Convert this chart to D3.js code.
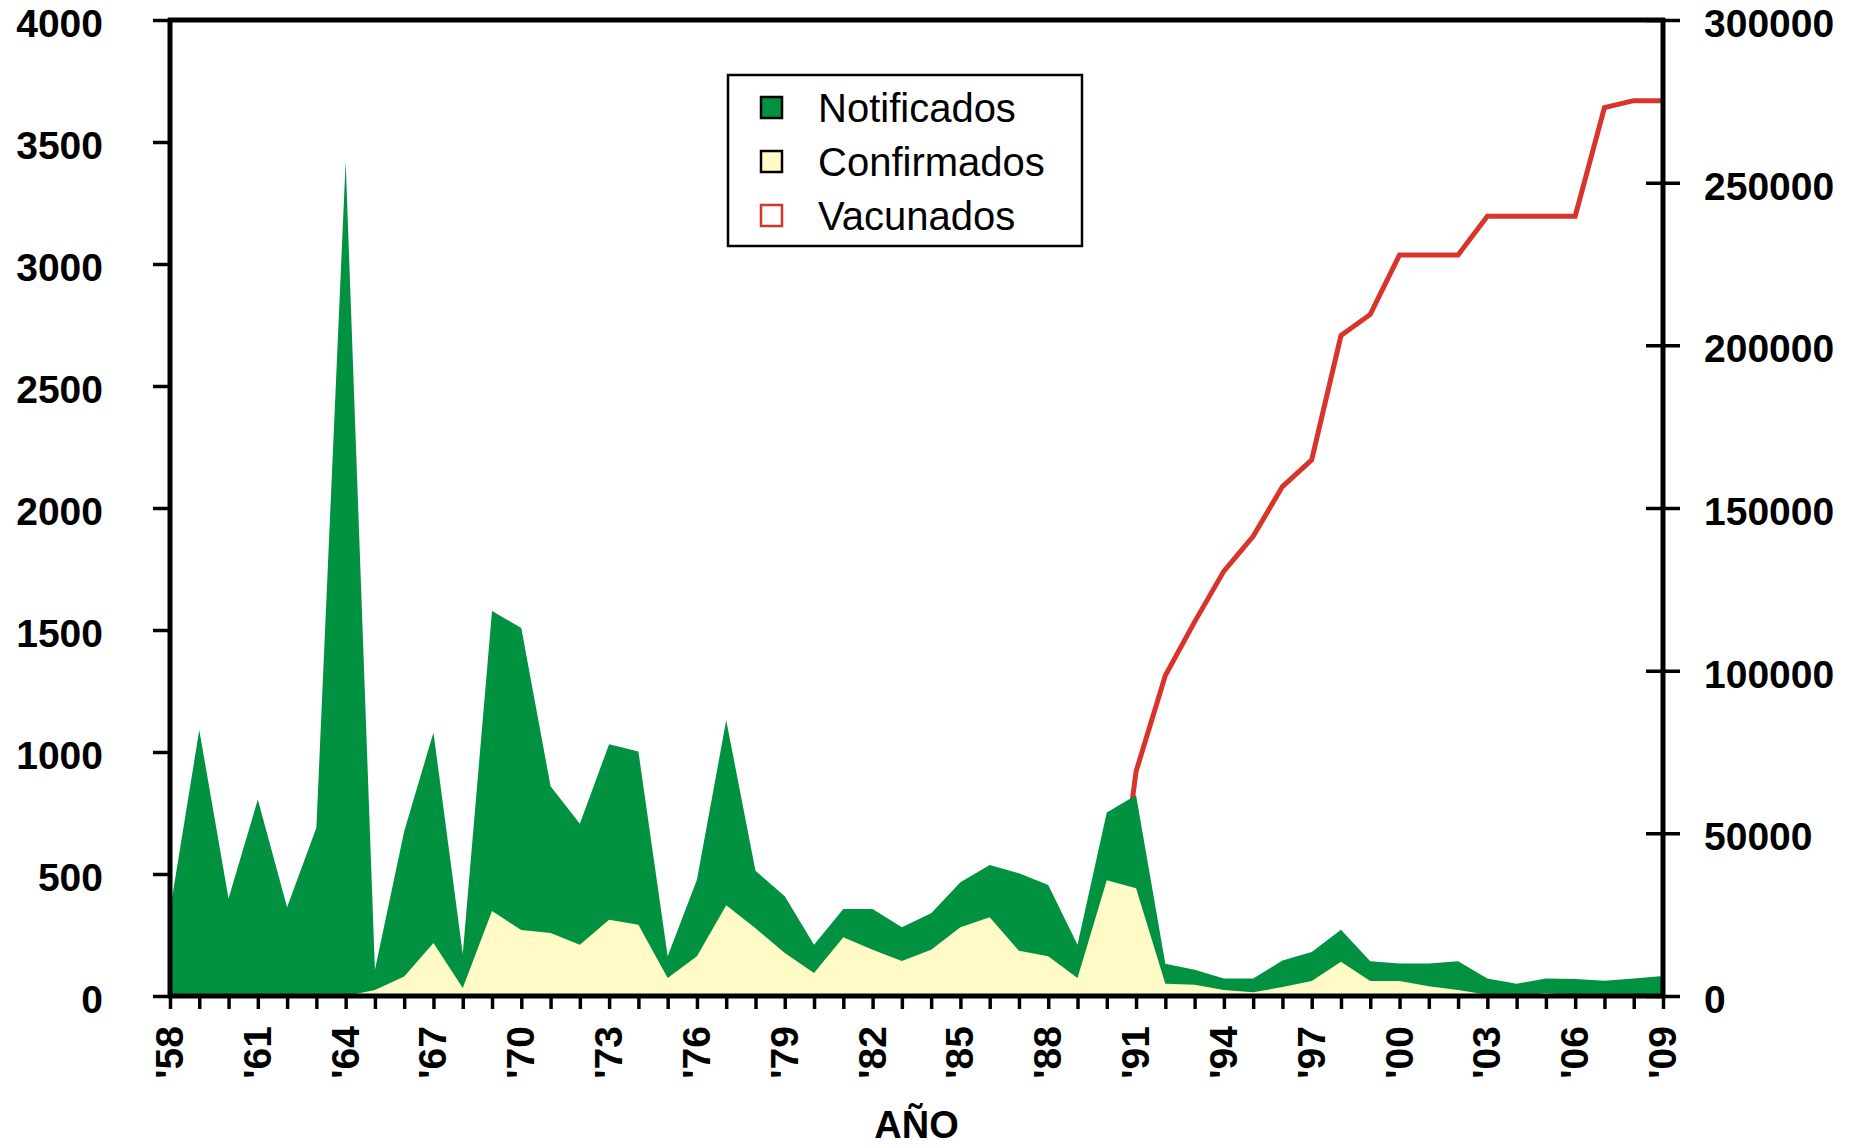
<!DOCTYPE html>
<html>
<head>
<meta charset="utf-8">
<script src="https://cdn.jsdelivr.net/npm/d3@7"></script>
<style>
  body { margin: 0; background: #fff; }
  svg { display: block; font-family: 'Liberation Sans', Arial, sans-serif; }
</style>
</head>
<body>
<div id="chart"></div>
<script>
// Years 1958 - 2009
const years = d3.range(1958, 2010);

const notificados = [
  350, 1090, 400, 805, 364, 690, 3420, 108, 675, 1080,
  172, 1578, 1508, 860, 706, 1032, 1002, 163, 476, 1130,
  513, 409, 210, 357, 357, 282, 339, 466, 537, 503,
  455, 210, 752, 823, 132, 108, 72, 72, 145, 180,
  272, 142, 133, 133, 142, 72, 50, 72, 70, 62,
  72, 82
];

const confirmados = [
  0, 0, 0, 0, 0, 0, 0, 25, 80, 217,
  33, 348, 270, 258, 210, 312, 292, 74, 163, 372,
  278, 176, 94, 241, 190, 143, 190, 282, 323, 185,
  163, 74, 474, 442, 50, 46, 25, 15, 37, 61,
  140, 61, 61, 40, 25, 5, 0, 12, 0, 0,
  0, 0
];

// vaccinated (right axis), no data before 1990
const vacunados = [
  null, null, null, null, null, null, null, null, null, null,
  null, null, null, null, null, null, null, null, null, null,
  null, null, null, null, null, null, null, null, null, null,
  null, null, 0, 69000, 98500, 115000, 130600, 141300, 156600, 164800,
  203000, 209500, 227800, 227800, 227800, 239700, 239700, 239700, 239700, 273100,
  275200, 275200
];

const leftTicks = d3.range(0, 4001, 500);
const rightTicks = d3.range(0, 300001, 50000);
const labelYears = years.filter(y => (y - 1958) % 3 === 0);

const legendItems = [
  { label: 'Notificados', fill: '#009240', stroke: '#000' },
  { label: 'Confirmados', fill: '#fffac6', stroke: '#000' },
  { label: 'Vacunados', fill: '#fff', stroke: '#d9342b' }
];

const W = 1859, H = 1148;
const margin = { top: 20, right: 196, bottom: 150, left: 170 };

const svg = d3.select('#chart').append('svg')
  .attr('width', W)
  .attr('height', H);

const x = d3.scaleLinear()
  .domain([1958, 2009])
  .range([margin.left, W - margin.right]);

const yL = d3.scaleLinear()
  .domain([0, 4000])
  .range([H - margin.bottom - 2, margin.top]);

const yR = d3.scaleLinear()
  .domain([0, 300000])
  .range([H - margin.bottom - 2, margin.top]);

const rows = years.map((yr, i) => ({
  year: yr, n: notificados[i], c: confirmados[i], v: vacunados[i]
}));

// vaccinated line goes under the areas
svg.append('path')
  .datum(rows)
  .attr('fill', 'none')
  .attr('stroke', '#d9342b')
  .attr('stroke-width', 5)
  .attr('stroke-linejoin', 'miter')
  .attr('d', d3.line()
    .defined(d => d.v !== null)
    .x(d => x(d.year))
    .y(d => yR(d.v)));

svg.append('path')
  .datum(rows)
  .attr('fill', '#009240')
  .attr('d', d3.area()
    .x(d => x(d.year))
    .y0(yL(0))
    .y1(d => yL(d.n)));

svg.append('path')
  .datum(rows)
  .attr('fill', '#fffac6')
  .attr('d', d3.area()
    .x(d => x(d.year))
    .y0(yL(0))
    .y1(d => yL(d.c)));

// frame
const x0 = x.range()[0], x1 = x.range()[1];
const yb = yL(0), yt = yL(4000);
svg.append('line')
  .attr('x1', x0 - 2).attr('x2', x1 + 2)
  .attr('y1', yt).attr('y2', yt)
  .attr('stroke', '#000').attr('stroke-width', 5);

// left axis
const leftAxis = svg.append('g')
  .attr('transform', `translate(${x0},0)`)
  .call(d3.axisLeft(yL).tickValues(leftTicks).tickSize(17).tickPadding(50).tickFormat(d3.format('d')));

// right axis
const rightAxis = svg.append('g')
  .attr('transform', `translate(${x1},0)`)
  .call(d3.axisRight(yR).tickValues(rightTicks).tickSize(17).tickPadding(24).tickFormat(d3.format('d')));
rightAxis.selectAll('.tick line').attr('x1', -17);

// bottom axis
const bottomAxis = svg.append('g')
  .attr('transform', `translate(0,${yb})`)
  .call(d3.axisBottom(x).tickValues(years).tickSize(13).tickFormat(''));

[leftAxis, rightAxis, bottomAxis].forEach(g => {
  g.select('.domain').attr('stroke-width', 5).attr('stroke', '#000');
  g.selectAll('.tick line').attr('stroke', '#000').attr('stroke-width', 3.5);
  g.selectAll('.tick text')
    .attr('fill', '#000')
    .attr('dy', '0.42em')
    .style('font-size', '39px')
    .style('font-weight', 'bold');
});
bottomAxis.select('.domain').attr('d', `M${x0 - 2},0H${x1 + 2}`);
leftAxis.select('.domain').attr('d', `M0,${yb + 2}V${yt - 2}`);
rightAxis.select('.domain').attr('d', `M0,${yb + 2}V${yt - 2}`);

// year labels, rotated
svg.append('g')
  .selectAll('text')
  .data(labelYears)
  .enter()
  .append('text')
  .attr('transform', d => `translate(${x(d) + 13},${yb + 30}) rotate(-90)`)
  .attr('text-anchor', 'end')
  .style('font-size', '39px')
  .style('font-weight', 'bold')
  .text(d => "'" + String(d % 100).padStart(2, '0'));

// axis title
svg.append('text')
  .attr('x', (x0 + x1) / 2)
  .attr('y', 1138)
  .attr('text-anchor', 'middle')
  .style('font-size', '38px')
  .style('font-weight', 'bold')
  .text('AÑO');

// legend
const legend = svg.append('g').attr('transform', 'translate(728,75)');
legend.append('rect')
  .attr('width', 354)
  .attr('height', 171)
  .attr('fill', '#fff')
  .attr('stroke', '#000')
  .attr('stroke-width', 2.5);

legendItems.forEach((item, i) => {
  const row = legend.append('g').attr('transform', `translate(0,${33 + i * 54})`);
  row.append('rect')
    .attr('x', 33)
    .attr('y', -11)
    .attr('width', 21)
    .attr('height', 21)
    .attr('fill', item.fill)
    .attr('stroke', item.stroke)
    .attr('stroke-width', 2.5);
  row.append('text')
    .attr('x', 90)
    .attr('y', 14)
    .style('font-size', '40px')
    .text(item.label);
});
</script>
</body>
</html>
